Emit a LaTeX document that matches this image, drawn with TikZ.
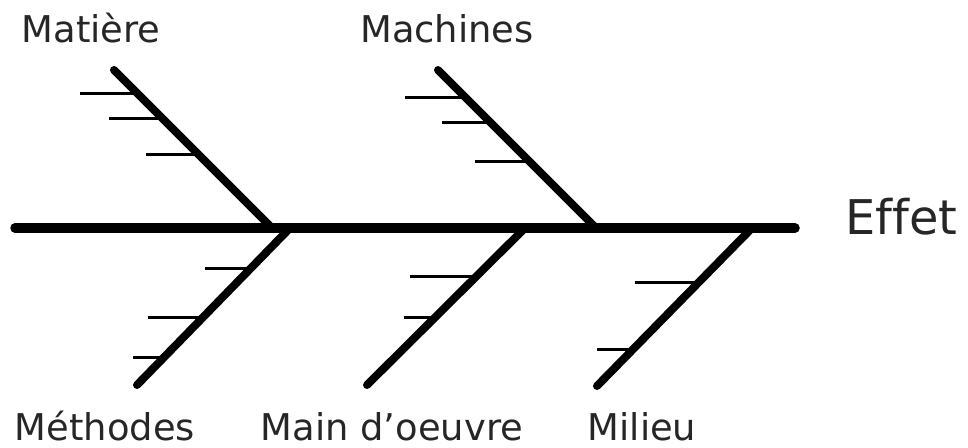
\documentclass[tikz,border=0pt]{standalone}
\usepackage{fontspec}
\setmainfont[Ligatures=NoCommon]{DejaVu Sans}
\usetikzlibrary{calc}

\tikzset{
	spine/.style={line width=9.5bp, line cap=round},
	bone/.style={line width=8bp, line cap=round},
	rib/.style={line width=3bp},
	cause/.style={font=\fontsize{37}{44}\selectfont, text=black!85, anchor=base, inner sep=0pt},
	effect/.style={font=\fontsize{48}{56}\selectfont, text=black!85, anchor=base west, inner sep=0pt},
}

\begin{document}
\begin{tikzpicture}[x=1bp, y=-1bp]
		\useasboundingbox (0,0) rectangle (968,448);

		% arete centrale
		\coordinate (tail) at (15,228);
		\coordinate (head) at (795,228);
		\node[effect] (effet) at (845,235) {Effet};
		\draw[spine] (tail) -- (head);

		% causes du haut
		\node[cause] (matiere) at (91,43) {Matière};
		\coordinate (matA) at (114,70);
		\coordinate (matB) at (272,228);
		\draw[bone] (matA) -- (matB);
		\foreach \t/\l in {0.146/57, 0.31/54, 0.538/53}
			\draw[rib] ($(matA)!\t!(matB)$) -- ++(-\l,0);

		\node[cause] (machines) at (447,43) {Machines};
		\coordinate (macA) at (438,70);
		\coordinate (macB) at (596,228);
		\draw[bone] (macA) -- (macB);
		\foreach \t/\l in {0.177/61, 0.335/49, 0.582/55}
			\draw[rib] ($(macA)!\t!(macB)$) -- ++(-\l,0);

		% causes du bas
		\node[cause] (methodes) at (105,440) {Méthodes};
		\coordinate (metA) at (290,228);
		\coordinate (metB) at (137,385);
		\draw[bone] (metA) -- (metB);
		\foreach \t/\l in {0.261/45, 0.567/55, 0.828/30}
			\draw[rib] ($(metA)!\t!(metB)$) -- ++(-\l,0);

		\node[cause] (main) at (392,440) {Main d’oeuvre};
		\coordinate (maiA) at (525,228);
		\coordinate (maiB) at (367,385);
		\draw[bone] (maiA) -- (maiB);
		\foreach \t/\l in {0.312/66, 0.567/31}
			\draw[rib] ($(maiA)!\t!(maiB)$) -- ++(-\l,0);

		\node[cause] (milieu) at (642,440) {Milieu};
		\coordinate (milA) at (752,228);
		\coordinate (milB) at (597,386);
		\draw[bone] (milA) -- (milB);
		\foreach \t/\l in {0.342/64, 0.772/35}
			\draw[rib] ($(milA)!\t!(milB)$) -- ++(-\l,0);

	\end{tikzpicture}
\end{document}
